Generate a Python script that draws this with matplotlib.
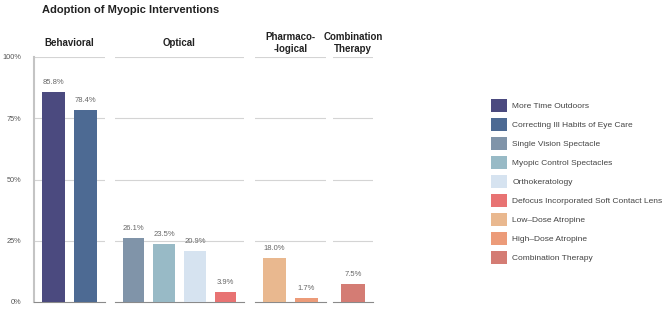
import matplotlib
matplotlib.use('Agg')
import matplotlib.pyplot as plt
from matplotlib.patches import Patch

plt.rcParams['font.family'] = ['Liberation Sans', 'DejaVu Sans']

groups = ['Behavioral', 'Optical', 'Pharmaco-\n-logical', 'Combination\nTherapy']
group_items = [
    ['More Time Outdoors', 'Correcting Ill Habits of Eye Care'],
    ['Single Vision Spectacle', 'Myopic Control Spectacles', 'Orthokeratology',
     'Defocus Incorporated Soft Contact Lens'],
    ['Low\u2013Dose Atropine', 'High\u2013Dose Atropine'],
    ['Combination Therapy'],
]
group_values = [
    [85.8, 78.4],
    [26.1, 23.5, 20.9, 3.9],
    [18.0, 1.7],
    [7.5],
]
group_colors = [
    ['#4b4a7f', '#4d6a93'],
    ['#8094a9', '#98bac6', '#d6e3f0', '#e87373'],
    ['#e9b88f', '#ec9b79'],
    ['#d47c74'],
]
ticks = [0, 25, 50, 75, 100]

fig = plt.figure(figsize=(6.69, 3.12), dpi=100)

# panel extents in pixels (left, width)
panels = [(34, 71), (115, 129), (255, 71), (333, 40)]
bottom = 1 - 302 / 312
height = (302 - 57) / 312

for gi, (px, pw) in enumerate(panels):
    ax = fig.add_axes([px / 669, bottom, pw / 669, height])
    vals = group_values[gi]
    n = len(vals)
    xs = list(range(n))
    ax.bar(xs, vals, width=0.7, color=group_colors[gi], zorder=3)
    for x, v in zip(xs, vals):
        ax.text(x, v + 3.9, f'{v:.1f}%', ha='center', va='center',
                fontsize=5.5, color='#666666')
    ax.set_xlim(-0.6, n - 1 + 0.6)
    ax.set_ylim(0, 100)
    ax.set_xticks([])
    ax.set_yticks(ticks)
    for t in ticks[1:]:
        ax.axhline(t, color='#d4d4d4', lw=0.8, zorder=1)
    for s in ['top', 'right', 'left']:
        ax.spines[s].set_visible(False)
    ax.spines['bottom'].set_color('#8a8a8a')
    ax.spines['bottom'].set_linewidth(0.8)
    if gi == 0:
        ax.spines['left'].set_visible(True)
        ax.spines['left'].set_color('#c4c4c4')
        ax.spines['left'].set_linewidth(1.5)
        ax.set_yticklabels([f'{t}%' for t in ticks], fontsize=5.3, color='#555555')
        ax.tick_params(axis='y', length=0, pad=9)
    else:
        ax.tick_params(axis='y', left=False, labelleft=False)
    ax.text(0.5, 1.057, groups[gi], transform=ax.transAxes, ha='center', va='center',
            fontsize=7, fontweight='bold', color='#222222', linespacing=1.15)

fig.text(42 / 669, 1 - 10 / 312, 'Adoption of Myopic Interventions', fontsize=8,
         fontweight='bold', color='#222222', va='center', ha='left')

handles = []
for items, cols in zip(group_items, group_colors):
    for lab, c in zip(items, cols):
        handles.append(Patch(facecolor=c, edgecolor='none', label=lab))

fig.legend(handles=handles, loc='upper left', bbox_to_anchor=(488 / 669, 1 - 96 / 312),
           frameon=False, fontsize=6, handlelength=1.9, handleheight=1.9,
           labelspacing=0.8, handletextpad=0.6, labelcolor='#444444', borderaxespad=0)

fig.savefig('out.png', dpi=100, facecolor='white')
